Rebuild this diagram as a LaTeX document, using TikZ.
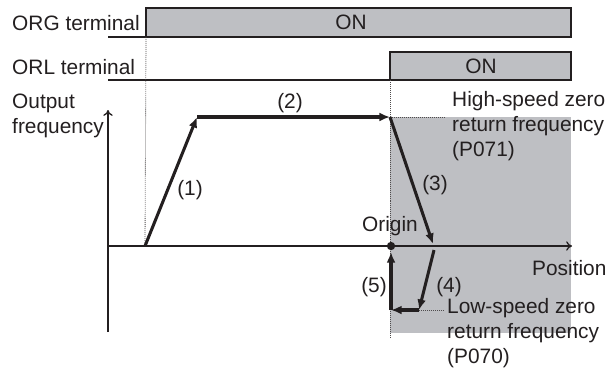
\documentclass[tikz,border=0pt]{standalone}
\usepackage{fontspec}
\setmainfont{Liberation Sans}
\usetikzlibrary{arrows.meta}

\definecolor{zonegray}{RGB}{190,191,195}
\definecolor{ink}{RGB}{35,31,32}

\tikzset{
  lbl/.style={inner sep=0pt, text=ink, font=\fontsize{17.8}{21.5}\selectfont},
  onbar/.style={draw=ink, line width=1.3pt, fill=zonegray},
  signal/.style={draw=ink, line width=1.2pt},
  axis/.style={draw=ink, line width=1.1pt, -{To[length=5pt,width=8pt]}},
  run/.style={draw=ink, line width=2.6pt, -{Latex[length=9pt,width=7.5pt]}},
  guide/.style={draw=ink!80, densely dotted, line width=0.7pt}
}

\begin{document}
\begin{tikzpicture}[x=0.3mm, y=-0.3mm]
      \useasboundingbox (0,0) rectangle (606,374);

      % terminals
      \coordinate (org-left)  at (108,37);
      \coordinate (org-rise)  at (146,37);
      \coordinate (orl-left)  at (108,80);
      \coordinate (orl-rise)  at (390,80);

      \draw[onbar] (146,8) rectangle (571,37);
      \draw[onbar] (390,52) rectangle (571,80);
      \draw[signal] (org-left) -- (org-rise);
      \draw[signal] (orl-left) -- (orl-rise);

      \node[lbl, anchor=west] (org-label) at (12,23) {ORG terminal};
      \node[lbl, anchor=west] (orl-label) at (12,67) {ORL terminal};
      \node[lbl] (org-on) at (351,22) {ON};
      \node[lbl] (orl-on) at (481,66) {ON};

      % zero return zone
      \fill[zonegray] (390,117) rectangle (571,333);

      % axes
      \coordinate (v-bot)  at (108,332);
      \coordinate (v-top)  at (108,110);
      \coordinate (h-left) at (108,246);
      \coordinate (h-right) at (572,246);
      \draw[axis] (v-bot) -- (v-top);
      \draw[axis] (h-left) -- (h-right);

      % profile
      \coordinate (ramp-start) at (145,246);
      \coordinate (top-a)   at (197,117);
      \coordinate (top-b)   at (390,117);
      \coordinate (high-end) at (445,117);
      \coordinate (down-end) at (433,244);
      \coordinate (low-start) at (434,250);
      \coordinate (low-a)   at (419,310);
      \coordinate (low-b)   at (391,310);
      \coordinate (low-end) at (443,310);
      \coordinate (back-end) at (391,252);
      \coordinate (org-pt)  at (391,246);

      % guides
      \draw[guide] (org-rise) -- (ramp-start);
      \draw[guide] (orl-rise) -- (390,338);
      \draw[guide] (top-b) -- (high-end);
      \draw[guide] (low-a) -- (low-end);

      \draw[run] (ramp-start) -- (top-a);
      \draw[run] (top-a) -- (top-b);
      \draw[run] (top-b) -- (down-end);
      \draw[run] (low-start) -- (low-a);
      \draw[run] (low-a) -- (low-b);
      \draw[run] (low-b) -- (back-end);
      \fill[ink] (org-pt) circle [radius=1.25mm];

      % labels
      \node[lbl, anchor=west, align=left] (freq-label) at (12,116) {Output\\frequency};
      \node[lbl, anchor=west] (pos-label) at (532,268) {Position};
      \node[lbl] (origin-label) at (390,226) {Origin};
      \node[lbl, anchor=west, align=left] (high-label) at (452,126) {High-speed zero\\return frequency\\(P071)};
      \node[lbl, anchor=west, align=left] (low-label) at (447,333) {Low-speed zero\\return frequency\\(P070)};
      \node[lbl] (run-1) at (190,190) {(1)};
      \node[lbl] (run-2) at (290,103) {(2)};
      \node[lbl] (run-3) at (435,185) {(3)};
      \node[lbl] (run-4) at (449,287) {(4)};
      \node[lbl] (run-5) at (374,287) {(5)};
    \end{tikzpicture}
\end{document}
